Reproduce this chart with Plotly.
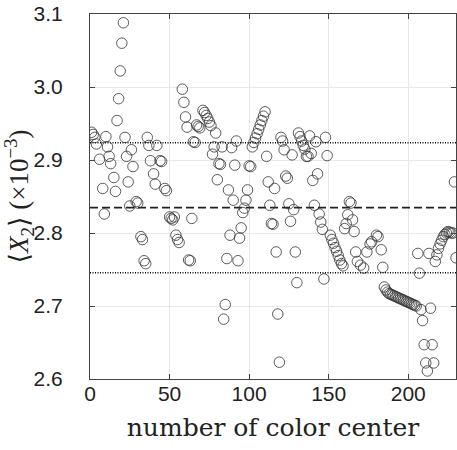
import plotly.graph_objects as go

# color-center index and <X2> values (x 1e-3)
x_idx = [1,2,3,4,6,8,9,10,11,12,13,15,16,17,18,19,20,21,22,23,24,25,26,27,29,30,32,33,34,35,
         36,37,38,40,41,42,44,45,47,48,50,51,52,53,54,55,56,58,59,60,61,62,63,64,65,66,67,68,69,
         71,72,73,74,75,76,77,78,79,80,81,82,83,84,85,86,87,88,89,90,91,92,93,94,95,96,97,98,99,
         100,101,102,103,104,105,106,107,108,109,110,111,112,113,114,115,116,117,118,119,120,121,
         122,123,124,125,126,127,128,129,130,131,132,133,134,135,136,137,138,139,140,141,142,143,
         144,145,146,147,148,149,151,152,153,154,155,156,157,158,159,160,161,162,163,164,165,166,
         167,168,170,172,174,176,177,180,181,183,184,185,186,187,188,189,190,191,192,193,194,195,
         196,197,198,199,200,201,202,203,204,205,206,207,208,209,210,211,212,213,214,215,216,217,
         218,219,220,221,222,223,224,225,226,227,228,229,230]
x2_vals = [2.938,2.935,2.931,2.922,2.901,2.861,2.826,2.932,2.918,2.905,2.895,2.876,2.857,2.954,
           2.984,3.022,3.060,3.088,2.931,2.905,2.870,2.837,2.914,2.891,2.843,2.841,2.795,2.791,
           2.762,2.758,2.931,2.920,2.899,2.881,2.867,2.920,2.899,2.898,2.861,2.858,2.822,2.820,
           2.818,2.822,2.797,2.791,2.787,2.997,2.979,2.959,2.945,2.763,2.762,2.820,2.925,2.924,
           2.948,2.946,2.944,2.968,2.965,2.961,2.957,2.952,2.947,2.908,2.918,2.937,2.873,2.895,
           2.894,2.918,2.682,2.702,2.765,2.859,2.797,2.917,2.845,2.893,2.926,2.762,2.793,2.807,
           2.828,2.834,2.845,2.859,2.892,2.891,2.918,2.924,2.930,2.936,2.942,2.948,2.954,2.960,
           2.966,2.905,2.870,2.838,2.813,2.812,2.861,2.774,2.689,2.623,2.931,2.926,2.914,2.878,
           2.875,2.840,2.816,2.907,2.832,2.774,2.732,2.937,2.932,2.926,2.920,2.915,2.905,2.905,
           2.933,2.909,2.872,2.838,2.925,2.881,2.826,2.815,2.805,2.737,2.931,2.906,2.797,2.791,
           2.786,2.780,2.775,2.769,2.763,2.758,2.755,2.806,2.813,2.825,2.843,2.841,2.818,2.802,
           2.774,2.761,2.756,2.752,2.774,2.785,2.788,2.797,2.795,2.777,2.753,2.726,2.722,2.719,
           2.717,2.716,2.715,2.714,2.713,2.712,2.711,2.710,2.709,2.708,2.707,2.706,2.705,2.704,
           2.703,2.702,2.701,2.700,2.772,2.745,2.695,2.680,2.647,2.622,2.611,2.772,2.697,2.647,
           2.622,2.761,2.770,2.779,2.785,2.790,2.795,2.798,2.800,2.802,2.801,2.800,2.800,2.870,2.766]

mean_val = 2.8347
upper_val = 2.9237
lower_val = 2.7456
x_range = [0, 230]
x_ticks = [0, 50, 100, 150, 200]
y_ticks = [2.6, 2.7, 2.8, 2.9, 3.0, 3.1]
y_tick_text = ["2.6", "2.7", "2.8", "2.9", "3.0", "3.1"]

fig = go.Figure()
fig.add_trace(go.Scatter(x=x_range, y=[upper_val]*2, mode="lines",
                         line=dict(color="black", width=1.6, dash="1px,1.5px"), hoverinfo="skip"))
fig.add_trace(go.Scatter(x=x_range, y=[lower_val]*2, mode="lines",
                         line=dict(color="black", width=1.6, dash="1px,1.5px"), hoverinfo="skip"))
fig.add_trace(go.Scatter(x=x_range, y=[mean_val]*2, mode="lines",
                         line=dict(color="#222", width=1.8, dash="8px,4px"), hoverinfo="skip"))
fig.add_trace(go.Scatter(x=x_idx, y=x2_vals, mode="markers",
                         marker=dict(symbol="circle-open", size=10.5, color="#333",
                                     line=dict(width=0.8, color="#333"))))

fig.update_layout(
    width=457, height=450,
    margin=dict(l=90, r=1, t=14, b=71),
    paper_bgcolor="white", plot_bgcolor="white",
    showlegend=False,
    font=dict(family="Liberation Sans, Arial, sans-serif", size=21, color="#222"),
)
fig.update_xaxes(range=x_range, tickvals=x_ticks, ticks="inside", ticklen=5, tickcolor="#444",
                 showline=True, linecolor="#444", linewidth=1, mirror="ticks",
                 showgrid=True, gridcolor="#e8e8e8", gridwidth=1, zeroline=False,
                 ticklabelstandoff=-4,
                 title=dict(text="number of color center",
                            font=dict(family="DejaVu Serif, Liberation Serif, serif", size=25, color="#222"),
                            standoff=14))
fig.update_yaxes(range=[2.6, 3.1], tickvals=y_ticks, ticktext=y_tick_text, ticks="inside", ticklen=5,
                 tickcolor="#444", showline=True, linecolor="#444", linewidth=1, mirror="ticks",
                 showgrid=True, gridcolor="#e8e8e8", gridwidth=1, zeroline=False,
                 ticklabelstandoff=22,
                 title=dict(text="⟨<i>X</i><sub>2</sub>⟩ (×10<sup>−3</sup>)",
                            font=dict(family="Liberation Serif, DejaVu Serif, serif", size=27, color="#222"),
                            standoff=0))

fig.write_html("out.html")
